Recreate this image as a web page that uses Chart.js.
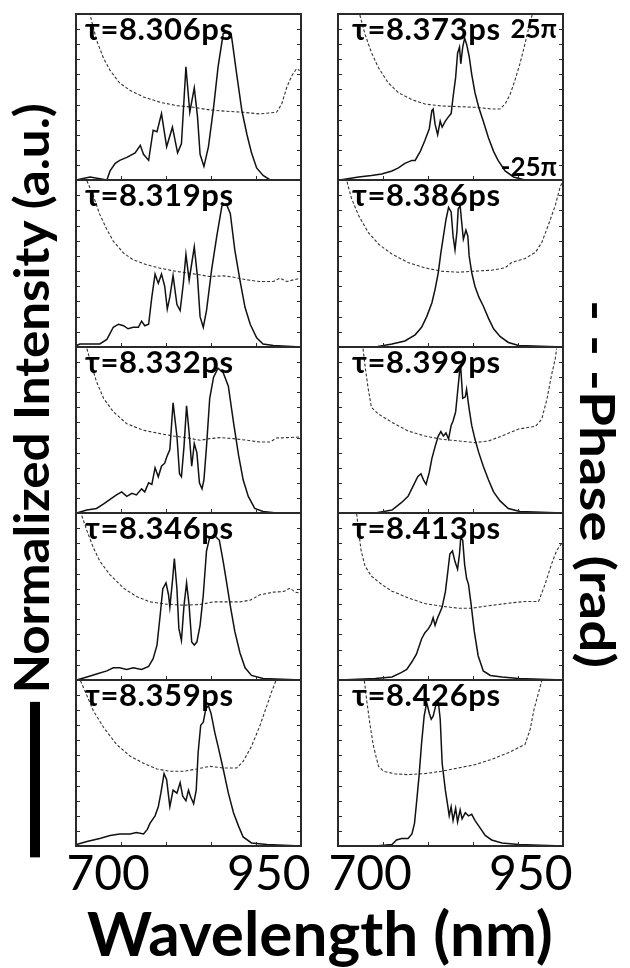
<!DOCTYPE html>
<html>
<head>
<meta charset="utf-8">
<script src="https://cdn.jsdelivr.net/npm/chart.js@4.4.0/dist/chart.umd.min.js"></script>
<style>
  body { margin: 0; background: #fff; }
  #page { position: relative; width: 630px; height: 968px; overflow: hidden; font-family: Lato, "Open Sans", sans-serif; }
  #page canvas { position: absolute; }
  .title { position: absolute; font-weight: bold; color: #000; white-space: nowrap; }
  #yLeft { width: 780px; height: 52px; left: -359px; top: 416px; font-size: 48px; line-height: 52px;
           transform: rotate(-90deg) scaleX(1.065); display: flex; align-items: center; }
  #yLeft .bar { display: inline-block; width: 146px; height: 10px; background: #000; margin-right: 8px;
                position: relative; top: 4px; }
  #yRight { width: 360px; height: 52px; left: 418px; top: 458px; font-size: 48px; line-height: 52px;
            text-align: center; transform: rotate(90deg) scaleX(1.18); }
  #xTitle { left: 87px; top: 896px; font-size: 62px; line-height: 72px; }
</style>
</head>
<body>
<div id="page">
  <div class="title" id="yLeft"><span class="bar"></span><span>Normalized Intensity (a.u.)</span></div>
  <div class="title" id="yRight">- - -Phase (rad)</div>
  <div class="title" id="xTitle">Wavelength (nm)</div>
</div>
<script>
// axes shared by every panel
const xMin = 650, xMax = 1000;
const xTickValues = [650, 720, 790, 860, 930, 1000];
const xLabelValues = [700, 950];
const yTickValues = [0, 0.1, 0.2, 0.3, 0.4, 0.5, 0.6, 0.7, 0.8, 0.9, 1.0, 1.1];
const phaseMin = -25, phaseMax = 25;      // in units of pi
const phaseLabels = ['25π', '-25π'];

const delays = ['8.306', '8.319', '8.332', '8.346', '8.359', '8.373', '8.386', '8.399', '8.413', '8.426'];

// spectra: wavelength (nm) and normalized intensity
const i8306_nm = [650, 672, 698, 703, 711, 718, 729, 742, 750, 755, 763, 770, 776, 783, 791, 800, 808, 814, 821, 827, 834, 839, 843, 849, 856, 864, 871, 879, 887, 892, 900, 908, 916, 923, 931, 941, 952, 1000];
const i8306 = [0, 0.02, 0, 0.06, 0.11, 0.13, 0.15, 0.18, 0.23, 0.17, 0.13, 0.33, 0.32, 0.44, 0.22, 0.35, 0.18, 0.24, 0.75, 0.45, 0.61, 0.42, 0.17, 0.09, 0.22, 0.48, 0.75, 0.97, 0.98, 0.95, 0.70, 0.46, 0.30, 0.18, 0.08, 0.03, 0, 0];
const i8319_nm = [651, 656, 667, 687, 698, 708, 716, 724, 731, 739, 747, 752, 757, 763, 768, 773, 778, 783, 788, 792, 796, 801, 807, 812, 817, 821, 826, 834, 839, 843, 848, 853, 861, 869, 877, 884, 890, 897, 905, 913, 921, 931, 941, 957, 1000];
const i8319 = [0.01, 0.02, 0.02, 0.02, 0.05, 0.13, 0.15, 0.14, 0.12, 0.13, 0.13, 0.17, 0.14, 0.15, 0.33, 0.48, 0.42, 0.48, 0.40, 0.25, 0.33, 0.47, 0.28, 0.24, 0.42, 0.61, 0.44, 0.66, 0.46, 0.20, 0.13, 0.24, 0.51, 0.73, 0.93, 0.94, 0.88, 0.64, 0.44, 0.26, 0.15, 0.06, 0.02, 0.01, 0];
const i8332_nm = [651, 667, 682, 693, 703, 713, 721, 729, 737, 744, 752, 757, 763, 768, 773, 778, 783, 788, 791, 796, 801, 807, 811, 814, 818, 822, 826, 830, 834, 838, 842, 846, 849, 853, 858, 864, 871, 879, 887, 895, 903, 910, 918, 928, 941, 962, 1000];
const i8332 = [0, 0.02, 0.03, 0.06, 0.09, 0.12, 0.14, 0.11, 0.13, 0.12, 0.16, 0.14, 0.20, 0.19, 0.30, 0.24, 0.31, 0.33, 0.37, 0.42, 0.73, 0.51, 0.26, 0.24, 0.44, 0.71, 0.53, 0.31, 0.46, 0.40, 0.20, 0.16, 0.22, 0.44, 0.76, 0.90, 0.96, 0.93, 0.84, 0.60, 0.38, 0.22, 0.11, 0.03, 0.01, 0, 0];
const i8346_nm = [651, 667, 682, 698, 708, 718, 729, 739, 752, 763, 770, 776, 781, 785, 790, 794, 796, 800, 803, 807, 810, 814, 818, 822, 826, 830, 834, 838, 843, 848, 853, 858, 866, 873, 879, 884, 890, 897, 905, 913, 923, 941, 1000];
const i8346 = [0, 0.02, 0.04, 0.06, 0.08, 0.08, 0.07, 0.08, 0.07, 0.09, 0.14, 0.23, 0.43, 0.60, 0.64, 0.56, 0.48, 0.65, 0.80, 0.60, 0.34, 0.26, 0.49, 0.64, 0.49, 0.25, 0.23, 0.25, 0.36, 0.56, 0.85, 0.94, 0.95, 0.92, 0.78, 0.65, 0.49, 0.32, 0.18, 0.08, 0.03, 0.01, 0];
const i8359_nm = [651, 667, 687, 703, 718, 734, 744, 755, 761, 765, 773, 778, 782, 787, 791, 794, 796, 801, 807, 812, 816, 821, 825, 828, 833, 837, 840, 844, 848, 852, 856, 860, 866, 871, 879, 887, 895, 903, 910, 923, 947, 1000];
const i8359 = [0.01, 0.03, 0.05, 0.07, 0.08, 0.08, 0.09, 0.08, 0.11, 0.15, 0.20, 0.26, 0.35, 0.48, 0.44, 0.33, 0.26, 0.37, 0.35, 0.42, 0.33, 0.30, 0.37, 0.33, 0.28, 0.37, 0.62, 0.80, 0.82, 0.91, 0.93, 0.88, 0.75, 0.66, 0.51, 0.35, 0.22, 0.13, 0.06, 0.02, 0.01, 0];
const i8373_nm = [653, 682, 702, 718, 734, 744, 754, 765, 770, 778, 785, 792, 796, 798, 801, 805, 809, 812, 817, 822, 826, 829, 833, 836, 839, 841, 844, 847, 850, 854, 858, 863, 869, 876, 884, 892, 899, 910, 923, 941, 1000];
const i8373 = [0, 0.02, 0.03, 0.04, 0.06, 0.08, 0.11, 0.13, 0.13, 0.19, 0.26, 0.34, 0.46, 0.47, 0.37, 0.30, 0.39, 0.35, 0.39, 0.42, 0.44, 0.55, 0.68, 0.84, 0.88, 0.77, 0.88, 0.94, 0.90, 0.82, 0.70, 0.58, 0.48, 0.39, 0.28, 0.19, 0.13, 0.06, 0.02, 0, 0];
const i8386_nm = [653, 708, 734, 754, 770, 780, 788, 796, 801, 806, 810, 814, 818, 822, 826, 829, 832, 835, 837, 840, 842, 845, 849, 852, 854, 858, 863, 869, 876, 884, 892, 902, 915, 931, 1000];
const i8386 = [0, 0, 0.02, 0.04, 0.08, 0.13, 0.20, 0.29, 0.38, 0.49, 0.62, 0.73, 0.84, 0.92, 0.89, 0.73, 0.64, 0.76, 0.91, 0.93, 0.84, 0.71, 0.77, 0.73, 0.60, 0.49, 0.40, 0.33, 0.27, 0.19, 0.12, 0.07, 0.03, 0.01, 0];
const i8399_nm = [653, 708, 734, 749, 759, 767, 774, 779, 783, 787, 792, 796, 801, 806, 810, 814, 818, 822, 826, 829, 833, 836, 839, 841, 844, 848, 850, 854, 858, 863, 869, 876, 884, 892, 902, 915, 933, 1000];
const i8399 = [0, 0, 0.02, 0.07, 0.11, 0.18, 0.24, 0.26, 0.22, 0.19, 0.27, 0.36, 0.44, 0.51, 0.54, 0.51, 0.53, 0.49, 0.58, 0.61, 0.67, 0.80, 0.93, 0.96, 0.76, 0.77, 0.82, 0.69, 0.58, 0.49, 0.40, 0.31, 0.22, 0.14, 0.08, 0.03, 0.01, 0];
const i8413_nm = [653, 708, 734, 749, 757, 765, 772, 780, 785, 791, 795, 798, 801, 805, 809, 812, 817, 821, 824, 828, 832, 836, 839, 841, 844, 847, 850, 853, 857, 862, 868, 876, 887, 905, 931, 1000];
const i8413 = [0, 0.01, 0.02, 0.05, 0.07, 0.12, 0.17, 0.27, 0.31, 0.34, 0.37, 0.41, 0.36, 0.41, 0.45, 0.48, 0.58, 0.72, 0.83, 0.85, 0.78, 0.73, 0.83, 0.94, 0.92, 0.76, 0.67, 0.63, 0.50, 0.32, 0.16, 0.06, 0.03, 0.02, 0.01, 0];
const i8426_nm = [653, 708, 734, 741, 749, 759, 765, 769, 772, 776, 780, 784, 788, 792, 795, 798, 802, 806, 809, 812, 817, 821, 823, 826, 829, 833, 836, 840, 843, 848, 853, 858, 863, 871, 879, 889, 905, 931, 1000];
const i8426 = [0, 0, 0.01, 0.04, 0.05, 0.05, 0.08, 0.15, 0.28, 0.46, 0.68, 0.86, 0.95, 0.88, 0.84, 0.86, 0.93, 0.96, 0.84, 0.55, 0.37, 0.26, 0.20, 0.26, 0.17, 0.25, 0.16, 0.24, 0.18, 0.22, 0.20, 0.21, 0.17, 0.12, 0.07, 0.04, 0.02, 0.01, 0];

// spectral phase: wavelength (nm) and phase in units of pi
const p8306_nm = [669, 674, 682, 693, 703, 718, 734, 755, 781, 807, 833, 858, 884, 910, 936, 962, 970, 978, 986, 993, 998];
const p8306 = [27, 23.2, 17.1, 11.6, 8.0, 4.2, 2.0, 0.0, -1.6, -2.6, -3.1, -3.9, -4.3, -4.6, -5.1, -4.6, -2.1, 3.0, 6.5, 8.5, 8.0];
const p8319_nm = [667, 677, 687, 698, 708, 724, 739, 760, 781, 807, 833, 858, 879, 895, 916, 936, 957, 967, 978, 988, 1000];
const p8319 = [24.8, 20.2, 14.7, 10.2, 6.7, 3.1, 1.1, -0.4, -1.4, -2.4, -3.1, -3.9, -3.7, -4.1, -4.9, -5.4, -5.4, -4.4, -5.4, -4.9, -4.4];
const p8332_nm = [667, 674, 682, 693, 708, 729, 755, 781, 801, 822, 843, 858, 874, 895, 916, 936, 952, 962, 978, 1000];
const p8332 = [24.5, 19.6, 14.5, 9.5, 5.5, 1.9, -0.1, -1.1, -1.8, -2.3, -3.1, -2.6, -2.3, -2.6, -3.1, -3.6, -3.6, -2.4, -2.3, -2.1];
const p8346_nm = [659, 667, 677, 687, 703, 724, 744, 765, 791, 817, 843, 864, 884, 905, 921, 936, 957, 973, 983, 991, 1000];
const p8346 = [24.2, 19.7, 14.6, 10.6, 6.5, 2.5, 0.0, -1.6, -2.3, -2.6, -2.4, -1.6, -1.6, -1.6, -1.1, 0.5, 1.3, 1.5, 2.5, 1.3, 1.0];
const p8359_nm = [657, 667, 677, 693, 713, 734, 755, 776, 796, 817, 838, 858, 879, 900, 910, 923, 936, 947, 954, 961];
const p8359 = [24.8, 20.3, 15.7, 10.7, 5.6, 2.1, -0.1, -1.8, -2.5, -2.5, -1.8, -1.0, -1.5, -1.5, 0.5, 5.0, 11.2, 17.3, 21.3, 24.8];
const p8373_nm = [684, 692, 702, 713, 728, 744, 765, 785, 811, 837, 863, 889, 902, 910, 918, 925, 933, 941, 947, 952];
const p8373 = [24.7, 18.9, 13.4, 8.8, 4.3, 1.3, -0.8, -2.1, -2.7, -2.9, -3.1, -3.6, -3.6, -2.1, 0.9, 4.9, 10.0, 16.1, 21.1, 24.7];
const p8386_nm = [664, 671, 682, 697, 713, 734, 759, 785, 811, 837, 863, 889, 910, 920, 941, 957, 967, 977, 988, 995, 999];
const p8386 = [24.5, 19.5, 14.4, 9.3, 5.8, 2.8, 0.3, -1.3, -2.3, -2.6, -2.3, -2.0, -1.3, 0.3, 1.5, 3.3, 6.3, 11.4, 17.4, 22.5, 24.5];
const p8399_nm = [689, 692, 697, 702, 713, 734, 759, 785, 811, 837, 863, 884, 905, 931, 957, 967, 975, 982, 988, 990];
const p8399 = [24.5, 19.4, 12.4, 6.8, 4.8, 2.3, -0.3, -1.8, -2.8, -3.3, -3.8, -3.3, -1.8, 0.3, 1.1, 3.3, 9.3, 16.4, 21.5, 24.5];
const p8413_nm = [679, 682, 686, 692, 702, 718, 734, 759, 785, 811, 837, 858, 879, 899, 920, 941, 962, 972, 982, 990, 999];
const p8413 = [24.8, 19.8, 13.7, 9.1, 6.1, 3.6, 1.6, -0.4, -2.1, -2.9, -3.5, -3.5, -2.9, -2.4, -1.9, -1.5, -1.5, 3.6, 9.6, 13.7, 16.2];
const p8426_nm = [691, 695, 700, 705, 713, 721, 739, 759, 785, 811, 837, 863, 889, 915, 941, 949, 955, 962, 967];
const p8426 = [24.8, 18.3, 11.3, 5.2, -1.0, -2.5, -3.3, -3.5, -3.2, -2.5, -1.5, -0.5, 1.1, 3.1, 5.6, 10.2, 16.2, 21.2, 24.8];

const spectra = [
  [i8306_nm, i8306, p8306_nm, p8306],
  [i8319_nm, i8319, p8319_nm, p8319],
  [i8332_nm, i8332, p8332_nm, p8332],
  [i8346_nm, i8346, p8346_nm, p8346],
  [i8359_nm, i8359, p8359_nm, p8359],
  [i8373_nm, i8373, p8373_nm, p8373],
  [i8386_nm, i8386, p8386_nm, p8386],
  [i8399_nm, i8399, p8399_nm, p8399],
  [i8413_nm, i8413, p8413_nm, p8413],
  [i8426_nm, i8426, p8426_nm, p8426]
];

// panel grid (plot-area pixels)
const colLeft = [76, 338];
const plotWidth = 225;
const rowTop = [14, 180, 347, 513, 680];
const rowHeight = [166, 167, 166, 167, 166];
const pad = 2;        // room for the frame line
const sidePad = 12;   // room for the wide wavelength labels
const axisHeight = 46;

const toPoints = (xs, ys) => xs.map((x, k) => ({ x: x, y: ys[k] }));

// frame, inward ticks and the delay label
const framePlugin = {
  id: 'frame',
  afterDatasetsDraw(chart, args, opts) {
    const { ctx, chartArea: a, scales } = chart;
    ctx.save();
    ctx.strokeStyle = '#2a2a2a';
    ctx.lineWidth = 1;
    ctx.beginPath();
    xTickValues.forEach(v => {
      const px = Math.round(scales.x.getPixelForValue(v)) + 0.5;
      ctx.moveTo(px, a.bottom); ctx.lineTo(px, a.bottom - 4);
    });
    yTickValues.forEach(v => {
      const py = Math.round(scales.y.getPixelForValue(v)) + 0.5;
      ctx.moveTo(a.left, py); ctx.lineTo(a.left + 4, py);
      ctx.moveTo(a.right, py); ctx.lineTo(a.right - 4, py);
    });
    ctx.stroke();
    ctx.lineWidth = 2;
    ctx.strokeRect(a.left, a.top, a.right - a.left, a.bottom - a.top);

    ctx.fillStyle = '#000';
    ctx.font = 'bold 31px Lato, "Open Sans", sans-serif';
    ctx.letterSpacing = '0.6px';
    ctx.textBaseline = 'alphabetic';
    ctx.textAlign = 'left';
    ctx.fillText('τ=' + opts.delay + 'ps', a.left + opts.offset, a.top + 26);

    if (opts.phaseLabels) {
      ctx.font = 'bold 26px Lato, "Open Sans", sans-serif';
      ctx.letterSpacing = '0px';
      ctx.textAlign = 'right';
      ctx.fillText(phaseLabels[0], a.right - 6, scales.y2.getPixelForValue(phaseMax) + 24);
      ctx.fillText(phaseLabels[1], a.right - 6, scales.y2.getPixelForValue(phaseMin) - 4);
    }
    ctx.restore();
  }
};

const page = document.getElementById('page');

spectra.forEach((s, i) => {
  const col = i < 5 ? 0 : 1;
  const row = i % 5;
  const isBottom = row === 4;
  const canvas = document.createElement('canvas');
  const w = plotWidth + 2 * sidePad;
  const h = rowHeight[row] + 2 * pad + (isBottom ? axisHeight - pad : 0);
  canvas.width = w;
  canvas.height = h;
  canvas.style.left = (colLeft[col] - sidePad) + 'px';
  canvas.style.top = (rowTop[row] - pad) + 'px';
  page.appendChild(canvas);

  const xScale = {
    type: 'linear',
    min: xMin,
    max: xMax,
    display: isBottom,
    grid: { display: false },
    border: { display: false },
    ticks: {
      color: '#000',
      font: { family: 'Lato', size: 48 },
      padding: -8,
      maxRotation: 0,
      autoSkip: false
    }
  };
  if (isBottom) {
    xScale.afterBuildTicks = scale => { scale.ticks = xLabelValues.map(v => ({ value: v })); };
    xScale.afterFit = scale => { scale.height = axisHeight; };
  }

  new Chart(canvas, {
    type: 'line',
    data: {
      datasets: [
        {
          data: toPoints(s[0], s[1]),
          yAxisID: 'y',
          borderColor: '#111',
          borderWidth: 1.5,
          pointRadius: 0,
          tension: 0
        },
        {
          data: toPoints(s[2], s[3]),
          yAxisID: 'y2',
          borderColor: '#333',
          borderWidth: 1.1,
          borderDash: [3, 2],
          pointRadius: 0,
          tension: 0
        }
      ]
    },
    options: {
      responsive: false,
      animation: false,
      devicePixelRatio: 1,
      layout: { padding: { left: sidePad, right: sidePad, top: pad, bottom: isBottom ? 0 : pad } },
      plugins: {
        legend: { display: false },
        tooltip: { enabled: false },
        frame: { delay: delays[i], offset: col === 0 ? 9 : 14, phaseLabels: i === 5 }
      },
      scales: {
        x: xScale,
        y: { min: 0, max: 1.1, display: false },
        y2: { min: phaseMin, max: phaseMax, display: false }
      }
    },
    plugins: [framePlugin]
  });
});
</script>
</body>
</html>
